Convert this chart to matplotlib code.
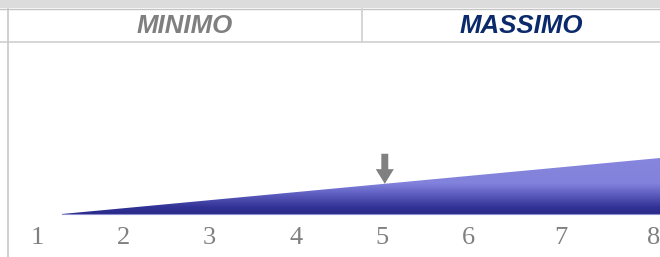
import numpy as np
import matplotlib
matplotlib.use("Agg")
import matplotlib.pyplot as plt
from matplotlib.patches import Polygon, Rectangle
from matplotlib.colors import LinearSegmentedColormap
from matplotlib.lines import Line2D

# ---- data ----
tick_labels = ["1", "2", "3", "4", "5", "6", "7", "8"]
tick_positions = [1, 2, 3, 4, 5, 6, 7.07, 8.15]
wedge_start = 1.29
wedge_end = 8.22
wedge_max = 1.0
indicator = 5.03
headers = ["MINIMO", "MASSIMO"]
header_colors = ["#7f7f7f", "#0b2a6b"]

W, H = 660, 257
fig = plt.figure(figsize=(W / 100, H / 100), dpi=100)
fig.patch.set_facecolor("white")

def fx(px):
    return px / W
def fy(py):
    return 1 - py / H

# frame elements
fig.patches.append(Rectangle((0, fy(8)), 1, 8 / H, transform=fig.transFigure,
                             facecolor="#dcdcdc", edgecolor="none", zorder=0))
fig.lines.append(Line2D([0, 1], [fy(8.5), fy(8.5)], transform=fig.transFigure,
                        color="#c4c4c4", lw=1))
fig.lines.append(Line2D([0, 1], [fy(42), fy(42)], transform=fig.transFigure,
                        color="#d0d0d0", lw=1.2))
fig.lines.append(Line2D([fx(7.5), fx(7.5)], [0, fy(8.5)], transform=fig.transFigure,
                        color="#c8c8c8", lw=1.2))
fig.lines.append(Line2D([fx(362), fx(362)], [fy(42), fy(8.5)], transform=fig.transFigure,
                        color="#d0d0d0", lw=1.2))

fig.text(fx(185), fy(26), headers[0], ha="center", va="center", fontsize=18.6,
         fontweight="bold", style="italic", family="Liberation Sans", color=header_colors[0])
fig.text(fx(521), fy(26), headers[1], ha="center", va="center", fontsize=18.6,
         fontweight="bold", style="italic", family="Liberation Sans", color=header_colors[1])

# main axes spanning the figure
ax = fig.add_axes([0, 0, 1, 1])
ax.set_facecolor("none")
px_per_unit = 86.3
x0 = 1 - 37 / px_per_unit
x1 = x0 + W / px_per_unit
ax.set_xlim(x0, x1)
unit_px = 56.0
ax.set_ylim(-43 / unit_px, (H - 43) / unit_px)
ax.axis("off")

def height_at(v):
    return wedge_max * (v - wedge_start) / (wedge_end - wedge_start)

poly = Polygon([(wedge_start, 0), (wedge_end, 0), (wedge_end, height_at(wedge_end))],
               closed=True, facecolor="none", edgecolor="none")
ax.add_patch(poly)
cmap = LinearSegmentedColormap.from_list(
    "g", [(0.0, "#2a2a8a"), (0.12, "#323296"), (0.42, "#6a6acb"), (0.55, "#8282dc"), (1.0, "#8686de")])
grad = np.linspace(0, 1, 256).reshape(-1, 1)
im = ax.imshow(grad, cmap=cmap, origin="lower", aspect="auto",
               extent=[wedge_start, wedge_end, 0, wedge_max], zorder=2)
im.set_clip_path(poly)
ax.plot([wedge_start, wedge_end], [0, 0], color="#8c8cd0", lw=0.8, zorder=3)

# indicator arrow
tip = height_at(indicator)
ax.annotate("", xy=(indicator, tip), xytext=(indicator, tip + 30 / unit_px),
            arrowprops=dict(arrowstyle="simple,head_width=1.3,head_length=1.05,tail_width=0.5",
                            color="#808080", lw=0, shrinkA=0, shrinkB=0), zorder=4)

# tick labels
for v, lab in zip(tick_positions, tick_labels):
    ax.text(v, -24 / unit_px, lab, ha="center", va="center", fontsize=19,
            family="Liberation Serif", color="#808080")

fig.savefig("out.png", dpi=100)
